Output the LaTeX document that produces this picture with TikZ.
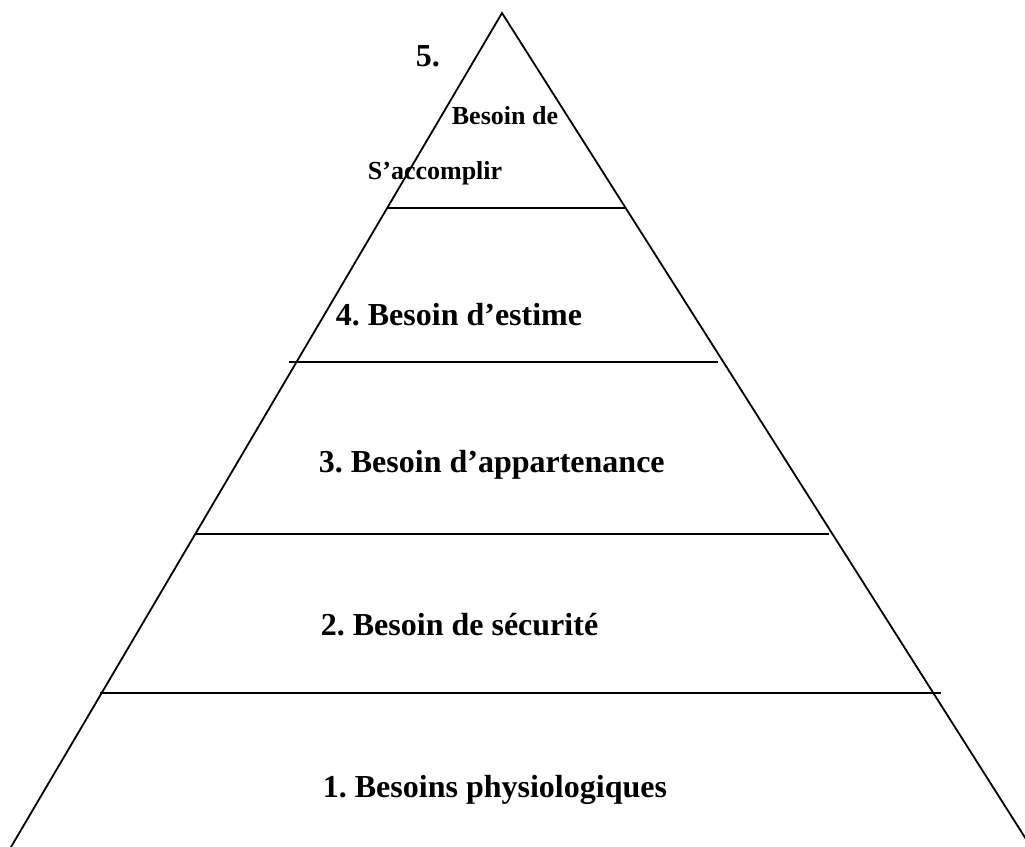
\documentclass[tikz,border=0pt]{standalone}
\usepackage{fontspec}
\setmainfont{Liberation Serif}
\frenchspacing

\begin{document}
\begin{tikzpicture}[x=0.5pt,y=-0.5pt,line width=0.9pt,
    lvl/.style={anchor=base west,inner sep=0pt,font=\fontsize{16}{19}\selectfont\bfseries},
    smalllvl/.style={anchor=base west,inner sep=0pt,font=\fontsize{13}{16}\selectfont\bfseries}]
  \useasboundingbox (0,0) rectangle (1025,847);
  \clip (0,0) rectangle (1025,847);

  \coordinate (apex) at (502,13);
  \coordinate (bl) at (11,847);
  \coordinate (br) at (1031,847);
  \draw (bl) -- (apex) -- (br);

  % separating lines
  \draw (386.7,208) -- (625,208);
  \draw (289,362) -- (718,362);
  \draw (195,534) -- (829,534);
  \draw (100,693) -- (941,693);

  \node[lvl]      (n5)  at (415,66)  {5.};
  \node[smalllvl] (n5a) at (451,124) {Besoin de};
  \node[smalllvl] (n5b) at (367,179) {S’accomplir};
  \node[lvl]      (n4)  at (335,325) {4. Besoin d’estime};
  \node[lvl]      (n3)  at (318,472) {3. Besoin d’appartenance};
  \node[lvl]      (n2)  at (320,635) {2. Besoin de sécurité};
  \node[lvl]      (n1)  at (322,797) {1. Besoins physiologiques};
\end{tikzpicture}
\end{document}
